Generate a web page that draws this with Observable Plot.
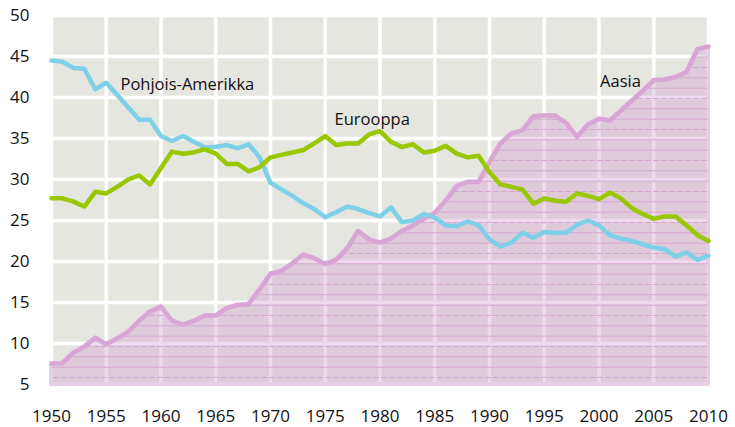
<!DOCTYPE html>
<html><head><meta charset="utf-8">
<script src="https://cdn.jsdelivr.net/npm/d3@7"></script>
<script src="https://cdn.jsdelivr.net/npm/@observablehq/plot@0.6"></script>
<style>body{margin:0;background:#fff;} svg{display:block}</style>
</head><body><div id="chart"></div>
<script>
const years = [1950,1951,1952,1953,1954,1955,1956,1957,1958,1959,
  1960,1961,1962,1963,1964,1965,1966,1967,1968,1969,
  1970,1971,1972,1973,1974,1975,1976,1977,1978,1979,
  1980,1981,1982,1983,1984,1985,1986,1987,1988,1989,
  1990,1991,1992,1993,1994,1995,1996,1997,1998,1999,
  2000,2001,2002,2003,2004,2005,2006,2007,2008,2009,2010];
const northAmerica = [44.5,44.35,43.6,43.5,41.0,41.8,40.3,38.8,37.3,37.3,
  35.3,34.7,35.3,34.6,33.9,34.0,34.2,33.8,34.3,32.7,
  29.6,28.8,28.0,27.1,26.4,25.4,26.0,26.7,26.4,25.9,
  25.5,26.6,24.8,25.0,25.8,25.35,24.4,24.3,24.9,24.4,
  22.7,21.8,22.3,23.5,22.9,23.6,23.5,23.5,24.5,25.0,
  24.4,23.2,22.8,22.5,22.1,21.7,21.5,20.6,21.1,20.2,20.7];
const europe = [27.7,27.7,27.3,26.7,28.5,28.3,29.1,30.0,30.5,29.4,
  31.4,33.4,33.15,33.3,33.7,33.15,31.9,31.9,31.0,31.5,
  32.7,33.0,33.3,33.6,34.4,35.3,34.2,34.4,34.4,35.5,
  35.9,34.6,33.95,34.3,33.3,33.5,34.1,33.15,32.7,32.9,
  30.9,29.4,29.1,28.8,27.05,27.7,27.4,27.3,28.3,28.0,
  27.6,28.4,27.7,26.5,25.8,25.2,25.5,25.5,24.4,23.2,22.5];
const asia = [7.57,7.6,8.87,9.6,10.7,9.9,10.6,11.4,12.76,13.9,
  14.5,12.8,12.3,12.76,13.4,13.4,14.3,14.7,14.8,16.6,
  18.5,18.85,19.75,20.85,20.4,19.7,20.2,21.6,23.7,22.7,
  22.3,22.8,23.7,24.4,25.2,25.9,27.4,29.2,29.7,29.7,
  32.1,34.4,35.6,36.0,37.7,37.8,37.8,36.9,35.2,36.7,
  37.4,37.2,38.4,39.6,40.8,42.1,42.2,42.5,43.1,45.9,46.2];
const yTicks = [5,10,15,20,25,30,35,40,45,50];
const xTicks = [1950,1955,1960,1965,1970,1975,1980,1985,1990,1995,2000,2005,2010];
const labelNames = ["Pohjois-Amerikka","Eurooppa","Aasia"];
const labelYears = [1956.3, 1975.85, 2000.1];
const labelValues = [41.6, 37.3, 41.95];

const data = years.map((year,i)=>({year, na: northAmerica[i], eu: europe[i], as: asia[i]}));
const labels = labelNames.map((name,i)=>({name, year: labelYears[i], value: labelValues[i]}));

const chart = Plot.plot({
  width: 735, height: 427, marginLeft: 51, marginRight: 27, marginTop: 15, marginBottom: 43,
  style: {fontFamily: "'Open Sans', sans-serif", fontSize: "17px", color: "#111", background: "white", overflow: "visible"},
  x: {domain: [1950, 2010], ticks: xTicks, tickFormat: d => String(d), tickSize: 0, tickPadding: 25, label: null},
  y: {domain: [5, 50], ticks: yTicks, tickSize: 0, tickPadding: 22, label: null},
  marks: [
    Plot.frame({fill: "#e6e6e0", stroke: "none"}),
    Plot.gridX(xTicks, {stroke: "white", strokeOpacity: 1, strokeWidth: 3.5}),
    Plot.gridY(yTicks, {stroke: "white", strokeOpacity: 1, strokeWidth: 3.5}),
    Plot.areaY(data, {x: "year", y1: 5, y2: "as", fill: "#cf98cd", fillOpacity: 0.36, stroke: "#e6cfe6", strokeWidth: 4}),
    Plot.areaY(data, {x: "year", y1: 5, y2: "as", fill: "url(#asiaStripes)"}),
    Plot.line(data, {x: "year", y: "as", stroke: "#d8a5d4", strokeWidth: 4.5, strokeLinejoin: "round"}),
    Plot.line(data, {x: "year", y: "na", stroke: "#7ed0e9", strokeWidth: 4.5, strokeLinejoin: "round"}),
    Plot.line(data, {x: "year", y: "eu", stroke: "#99c800", strokeWidth: 4.5, strokeLinejoin: "round"}),
    Plot.text(labels, {x: "year", y: "value", text: "name", textAnchor: "start", fill: "#111", fontSize: 16.5})
  ]
});

d3.select(chart).insert("defs", ":first-child").html(
  '<pattern id="asiaStripes" patternUnits="userSpaceOnUse" x="0" y="0" width="8" height="31">' +
  '<line x1="0" x2="8" y1="5.5" y2="5.5" stroke="#d6a6d2" stroke-width="1" stroke-dasharray="3,2"/>' +
  '<line x1="0" x2="8" y1="15.8" y2="15.8" stroke="#d6a6d2" stroke-width="1"/>' +
  '<line x1="0" x2="8" y1="26.2" y2="26.2" stroke="#d6a6d2" stroke-width="1"/>' +
  '</pattern>');

document.getElementById("chart").appendChild(chart);
</script>
</body></html>
